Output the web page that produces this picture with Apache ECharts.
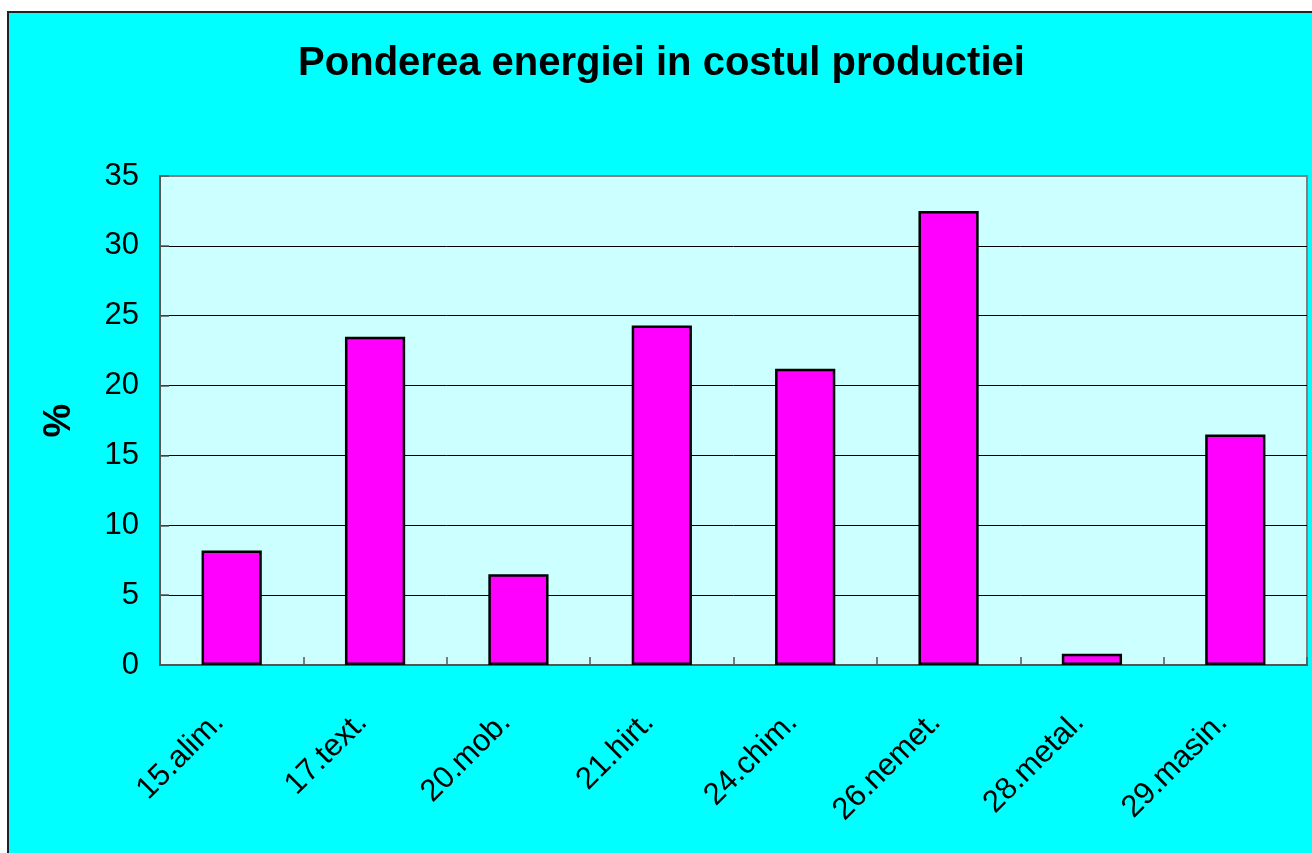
<!DOCTYPE html>
<html>
<head>
<meta charset="utf-8">
<script src="https://cdn.jsdelivr.net/npm/echarts@6/dist/echarts.min.js"></script>
<style>
    html, body { margin: 0; padding: 0; background: #fff; }
    #frame {
        position: absolute; left: 7px; top: 11px;
        width: 1305px; height: 842px;
        background: #00ffff;
        border-top: 2px solid #222; border-left: 2px solid #222;
    }
    #main { width: 1305px; height: 842px; }
</style>
</head>
<body>
<div id="frame"><div id="main"></div></div>
<script>
// date din grafic
var categorii = ['15.alim.', '17.text.', '20.mob.', '21.hirt.', '24.chim.', '26.nemet.', '28.metal.', '29.masin.'];
var ponderi = [8.2, 23.5, 6.5, 24.3, 21.2, 32.5, 0.8, 16.5];
var titlu = 'Ponderea energiei in costul productiei';

var font = '"Liberation Sans", Arial, sans-serif';

var myChart = echarts.init(document.getElementById('main'));

var option = {
    backgroundColor: '#00ffff',
    animation: false,
    title: {
        text: titlu,
        left: 'center',
        top: 26,
        textStyle: { fontFamily: font, fontSize: 40, fontWeight: 'bold', color: '#000' }
    },
    grid: {
        left: 151, top: 163, width: 1147, height: 489,
        show: true,
        backgroundColor: '#ccffff',
        borderColor: '#808080',
        borderWidth: 2
    },
    xAxis: {
        type: 'category',
        data: categorii,
        axisLine: { lineStyle: { color: '#555', width: 2 } },
        axisTick: { show: true, inside: true, length: 8, lineStyle: { color: '#555', width: 1.5 } },
        axisLabel: {
            rotate: 45, margin: 40, interval: 0,
            padding: [0, 18, 0, 0],
            fontFamily: font, fontSize: 31, color: '#000'
        }
    },
    yAxis: {
        type: 'value',
        min: 0, max: 35, interval: 5,
        name: '%',
        nameLocation: 'middle',
        nameGap: 81,
        nameTextStyle: { fontFamily: font, fontSize: 38, fontWeight: 'bold', color: '#000' },
        axisLine: { show: true, lineStyle: { color: '#555', width: 2 } },
        axisTick: { show: true, inside: true, length: 9, lineStyle: { color: '#555', width: 1.5 } },
        axisLabel: { margin: 21, fontFamily: font, fontSize: 31, color: '#000' },
        splitLine: {
            show: true,
            lineStyle: { color: ['#555', '#000', '#000', '#000', '#000', '#000', '#000', '#808080'], width: 1 }
        }
    },
    series: [{
        type: 'bar',
        data: ponderi,
        barWidth: '42%',
        itemStyle: { color: '#ff00ff', borderColor: '#000', borderWidth: 2.5 }
    }]
};

myChart.setOption(option);
</script>
</body>
</html>
